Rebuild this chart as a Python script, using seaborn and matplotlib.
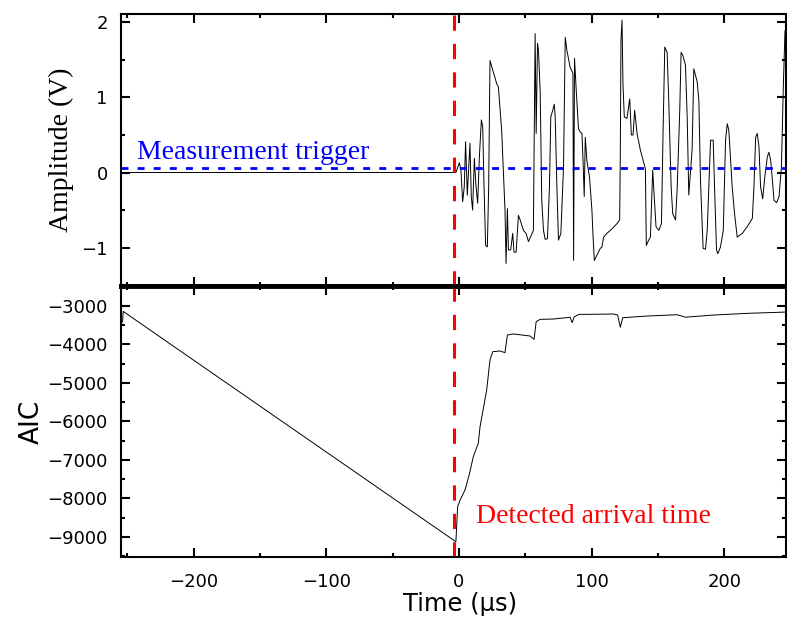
import numpy as np
import pandas as pd
import seaborn as sns
import matplotlib.pyplot as plt
from matplotlib.ticker import MultipleLocator

# waveform (upper panel): time in us, amplitude in V
t_sig = [-255, -2.3, 0.3, 1.5, 2.8, 4.0, 5.0, 6.3, 8.3, 9.3, 10.3, 11.6, 12.8, 14.1, 15.4,
         16.9, 17.9, 18.9, 20.1, 21.4, 22.4, 23.4, 28.5, 29.7, 32.2, 34.7, 35.5, 36.5, 37.3,
         39.0, 40.5, 41.5, 43.1, 44.8, 46.1, 48.6, 50.6, 52.4, 56.1, 57.4, 58.2, 59.2, 59.9,
         61.2, 62.4, 63.7, 65.0, 66.7, 68.2, 69.2, 70.7, 71.8, 72.5, 73.8, 75.0, 76.8, 78.8,
         80.1, 81.3, 83.8, 85.9, 86.4, 87.1, 88.4, 90.1, 91.4, 92.7, 93.4, 94.4, 95.2, 96.4,
         98.4, 100.2, 101.0, 102.0, 104.0, 106.5, 107.8, 109.0, 111.5, 115.3, 119.1, 121.1,
         121.6, 122.1, 122.9, 123.6, 124.6, 126.6, 128.7, 129.9, 131.2, 132.4, 134.2, 136.7,
         140.5, 141.2, 143.0, 144.3, 146.0, 147.3, 148.5, 150.6, 152.6, 153.8, 155.1, 156.9,
         158.1, 159.9, 161.1, 163.2, 164.4, 166.4, 167.4, 168.7, 170.7, 172.0, 173.2, 175.7,
         177.0, 179.5, 180.8, 182.0, 184.0, 185.8, 187.1, 189.6, 191.6, 192.6, 194.1, 195.1,
         197.1, 199.2, 200.9, 202.2, 203.4, 205.9, 207.7, 209.7, 213.5, 217.3, 221.1, 222.3,
         223.6, 224.8, 226.1, 227.3, 228.9, 230.6, 232.4, 233.6, 234.9, 236.2, 237.4, 239.4,
         241.2, 243.0, 244.5, 245.7, 247.0]
v_sig = [0, 0, 0.13, 0.03, -0.39, -0.19, 0.41, -0.30, 0.39, -0.32, -0.50, 0.19, -0.17, -0.41, 0.21,
         0.70, 0.61, -0.19, -0.97, -0.99, -0.19, 1.49, 1.18, 1.14, 0.56, -0.50, -1.21, -0.48, -1.03,
         -1.03, -0.81, -1.06, -1.06, -0.57, -0.63, -0.77, -0.81, -0.92, -0.77, 1.85, 0.52, 1.72, 1.63,
         1.09, -0.37, -0.77, -0.89, -0.88, -0.19, 0.74, 0.83, 0.91, 0.76, -0.19, -0.90, -0.81, 0.07,
         1.80, 1.63, 1.40, 1.32, -1.17, 1.52, 1.09, 0.58, 0.54, 0.52, 0.21, -0.32, 0.47, 0.16,
         -0.06, -0.50, -0.83, -1.17, -1.10, -1.01, -0.99, -0.86, -0.81, -0.75, -0.68, -0.63,
         0.25, 1.76, 2.03, 1.18, 0.74, 0.72, 0.98, 0.50, 0.50, 0.83, 0.52, 0.30,
         0.05, -0.97, -0.90, -0.86, 0.03, -0.37, -0.72, -0.77, -0.68, 0.52, 1.67, 1.60,
         0.96, -0.19, -0.55, -0.63, -0.24, 0.83, 1.60, 1.56, 1.43, 0.74, -0.30, 0.30,
         1.38, 1.21, 0.96, -0.10, -1.01, -1.02, -0.77, 0.43, 0.43, -0.19, -1.03, -1.08,
         -0.99, -0.77, 0.43, 0.65, 0.56, -0.19, -0.55, -0.86, -0.81, -0.72, -0.61, -0.19,
         0.47, 0.52, 0.34, -0.19, -0.35, -0.04, 0.21, 0.27, 0.16, -0.10, -0.37, -0.40,
         -0.32, 0.07, 1.18, 1.89, 1.80]

# AIC (lower panel)
t_aic = [-253.5, -253.0, -2.3, -1.0, 0.8, 4.5, 6.3, 8.0, 10.8, 14.6, 15.9, 18.9, 20.9, 23.4,
         25.5, 31.0, 34.7, 36.5, 41.0, 53.6, 56.6, 58.2, 61.2, 71.2, 78.3, 83.8, 85.3, 86.9,
         90.6, 96.4, 116.6, 119.6, 121.6, 123.4, 141.8, 164.4, 170.7, 192.1, 217.3, 247.0]
aic = [-3420, -3140, -9130, -8220, -8050, -7790, -7570, -7350, -6920, -6566, -6135, -5571, -5182, -4403,
       -4187, -4169, -4213, -3753, -3727, -3779, -3866, -3407, -3346, -3338, -3312, -3294, -3433, -3278,
       -3216, -3216, -3208, -3234, -3553, -3304, -3260, -3226, -3290, -3234, -3190, -3156]

t_detect = -3.5   # detected arrival time
v_trigger = 0.055  # measurement trigger level

sns.set_theme(style='ticks', rc={'axes.edgecolor': 'black', 'xtick.color': 'black',
                                 'ytick.color': 'black', 'text.color': 'black',
                                 'axes.labelcolor': 'black'})
plt.rcParams['font.family'] = ['DejaVu Sans']

fig = plt.figure(figsize=(7.87, 6.19), dpi=100)
ax1 = fig.add_axes([0.1537, 0.5380, 0.8456, 0.4394])
ax2 = fig.add_axes([0.1537, 0.1006, 0.8456, 0.4373], sharex=ax1)

df_sig = pd.DataFrame({'t': t_sig, 'v': v_sig})
df_aic = pd.DataFrame({'t': t_aic, 'aic': aic})
sns.lineplot(data=df_sig, x='t', y='v', ax=ax1, color='black', lw=0.7, estimator=None, sort=False)
sns.lineplot(data=df_aic, x='t', y='aic', ax=ax2, color='black', lw=0.7, estimator=None, sort=False)

ax1.axhline(v_trigger, color='blue', lw=2, dashes=(2.5, 3.3))
for ax in (ax1, ax2):
    ax.axvline(t_detect, color='red', lw=2.2, dashes=(5, 4.3))

ax1.text(-242.4, 0.186, 'Measurement trigger', color='blue', fontsize=20,
         family='Liberation Serif', ha='left', va='baseline')
ax2.text(12.8, -8652, 'Detected arrival time', color='red', fontsize=20,
         family='Liberation Serif', ha='left', va='baseline')

ax1.set_xlim(-254.7, 246.8)
ax1.set_ylim(-1.51, 2.11)
ax2.set_ylim(-9520, -2480)
ax1.xaxis.set_major_locator(MultipleLocator(100))
ax1.xaxis.set_minor_locator(MultipleLocator(50))
ax1.yaxis.set_major_locator(MultipleLocator(1))
ax1.yaxis.set_minor_locator(MultipleLocator(0.5))
ax2.yaxis.set_major_locator(MultipleLocator(1000))
ax2.yaxis.set_minor_locator(MultipleLocator(500))

for ax in (ax1, ax2):
    ax.tick_params(which='both', direction='in', top=True, right=True, width=1.5, labelsize=13)
    ax.tick_params(which='major', length=6.5)
    ax.tick_params(which='minor', length=3.2)
    ax.tick_params(axis='y', pad=9.5)
    ax.tick_params(axis='x', pad=11.5)
    for s in ax.spines.values():
        s.set_linewidth(1.5)
        s.set_color('black')
ax1.spines['bottom'].set_linewidth(3.5)
ax2.spines['top'].set_linewidth(3.5)
ax1.tick_params(labelbottom=False)

ax1.set_xlabel('')
ax1.set_ylabel('Amplitude (V)', family='Liberation Serif', fontsize=20, labelpad=5)
ax2.set_ylabel('AIC', fontsize=19, labelpad=2)
ax2.set_xlabel('Time (µs)', fontsize=17.5, labelpad=1, x=0.509)

fig.savefig('out.png', dpi=100)
